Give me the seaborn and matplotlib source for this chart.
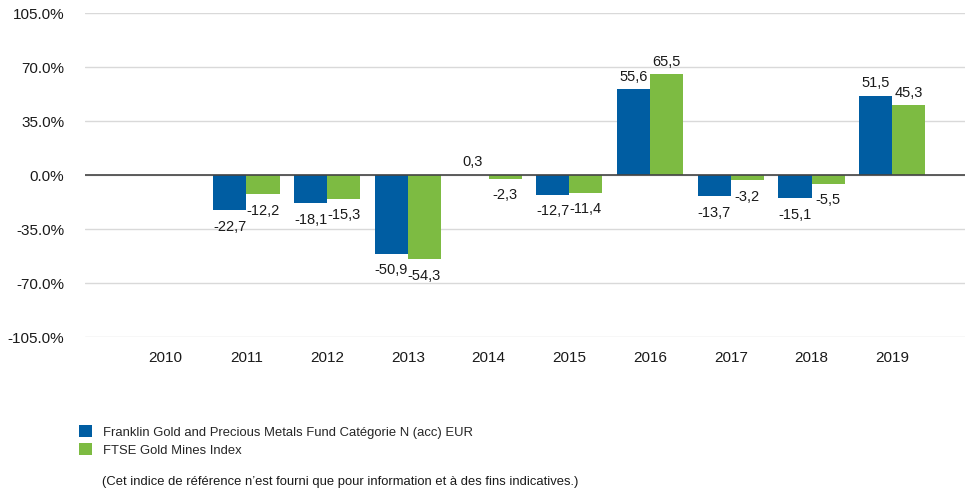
import numpy as np
import pandas as pd
import matplotlib.pyplot as plt
import seaborn as sns
from matplotlib.patches import Patch

# data
years = ["2010", "2011", "2012", "2013", "2014", "2015", "2016", "2017", "2018", "2019"]
fund_returns = [np.nan, -22.7, -18.1, -50.9, 0.3, -12.7, 55.6, -13.7, -15.1, 51.5]
index_returns = [np.nan, -12.2, -15.3, -54.3, -2.3, -11.4, 65.5, -3.2, -5.5, 45.3]
series_names = ["Franklin Gold and Precious Metals Fund Catégorie N (acc) EUR",
                "FTSE Gold Mines Index"]
y_ticks = [-105, -70, -35, 0, 35, 70, 105]
footnote = "(Cet indice de référence n’est fourni que pour information et à des fins indicatives.)"

colors = ["#005DA2", "#7DBB42"]

df = pd.DataFrame({
    "Year": years * 2,
    "Return": fund_returns + index_returns,
    "Series": [series_names[0]] * len(years) + [series_names[1]] * len(years),
})

sns.set_style("white")
plt.rcParams["font.family"] = ["Liberation Sans", "DejaVu Sans"]

fig = plt.figure(figsize=(9.65, 4.9), dpi=100)
ax = fig.add_axes([0.088, 0.312, 0.912, 0.661])

sns.barplot(data=df, x="Year", y="Return", hue="Series", order=years,
            hue_order=series_names, palette=colors, width=0.82,
            saturation=1, linewidth=0, ax=ax, legend=False)

# value labels with comma decimals; negatives sit a bit further from the bar
def fmt(h):
    return f"{h:.1f}".replace(".", ",")

for cont in ax.containers:
    heights = [bar.get_height() for bar in cont]
    pos = ["" if np.isnan(h) or h < 0 else fmt(h) for h in heights]
    neg = ["" if np.isnan(h) or h >= 0 else fmt(h) for h in heights]
    ax.bar_label(cont, labels=pos, padding=4, fontsize=10.5, color="#1a1a1a")
    ax.bar_label(cont, labels=neg, padding=7, fontsize=10.5, color="#1a1a1a")

ax.set_ylim(-105, 105)
ax.set_xlim(-1.0, 9.9)
ax.set_yticks(y_ticks)
ax.set_yticklabels([f"{t:.1f}%" for t in y_ticks], fontsize=11, color="#1a1a1a")
ax.tick_params(axis="x", labelsize=11, colors="#1a1a1a", length=0, pad=10)
ax.tick_params(axis="y", length=0, pad=15)
ax.grid(axis="y", color="#d9d9d9", linewidth=1)
ax.set_axisbelow(True)
ax.axhline(0, color="#444444", linewidth=1.2, zorder=3)
for s in ax.spines.values():
    s.set_visible(False)
ax.set_xlabel("")
ax.set_ylabel("")

handles = [Patch(facecolor=c, edgecolor="none") for c in colors]
fig.legend(handles, series_names, loc="upper left", bbox_to_anchor=(0.082, 0.132),
           frameon=False, fontsize=9.4, handlelength=1.0, handleheight=1.0,
           handletextpad=0.85, labelspacing=0.35, borderaxespad=0, borderpad=0)
fig.text(0.106, 0.016, footnote, fontsize=9.4, color="#1a1a1a", va="center")

fig.savefig("out.png", dpi=100)
